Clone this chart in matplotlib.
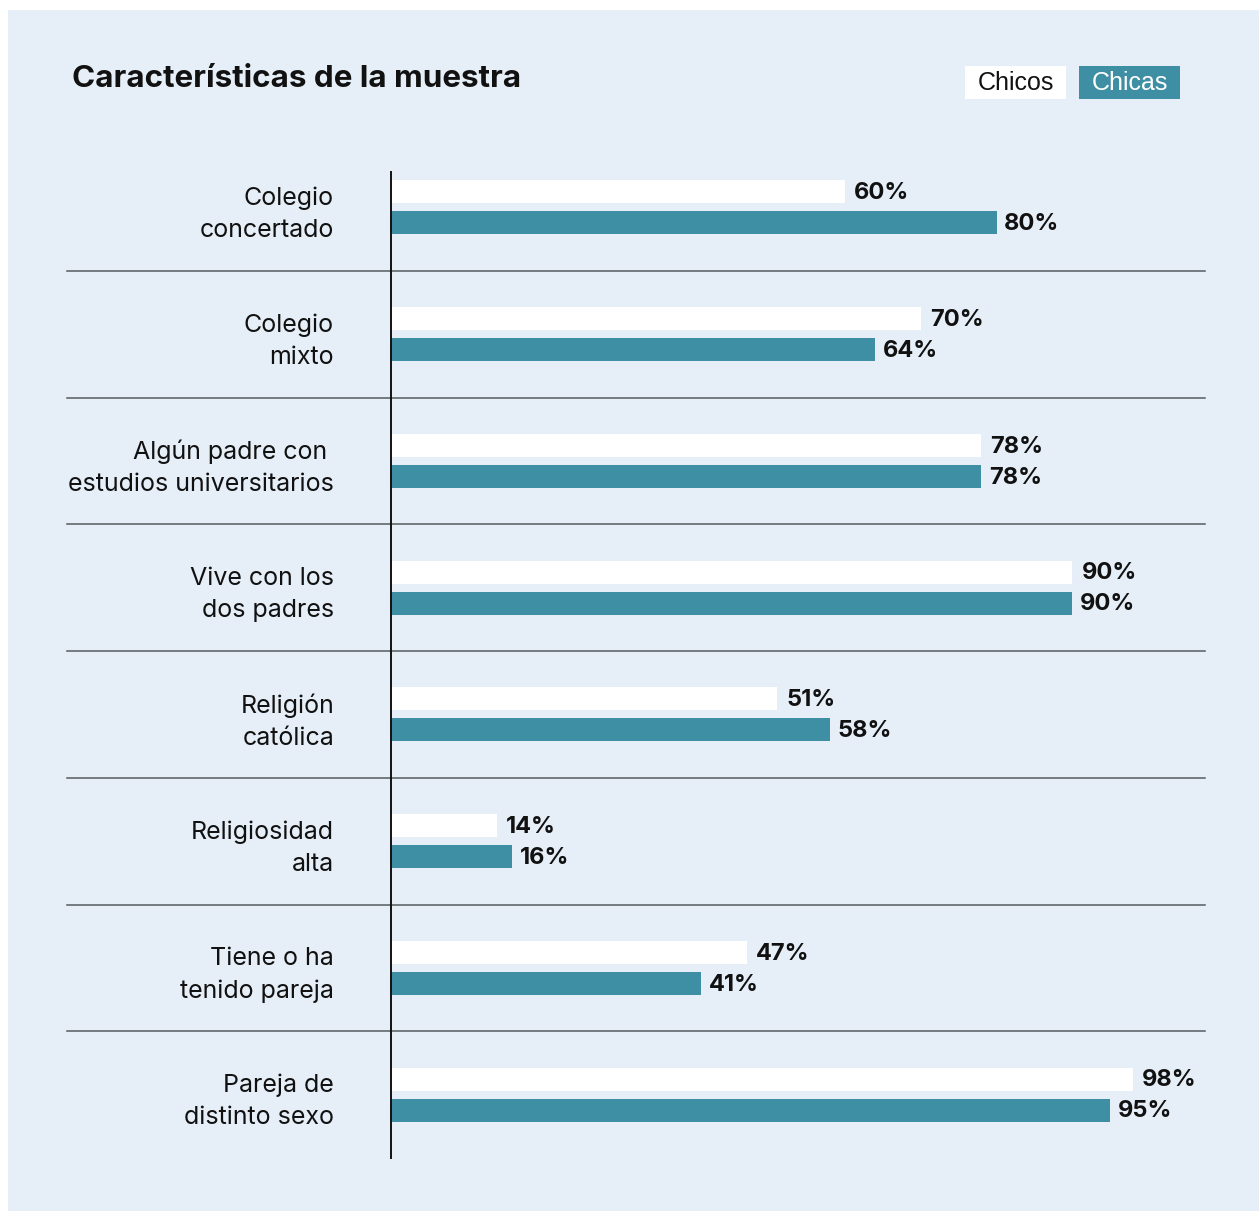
import matplotlib.pyplot as plt
from matplotlib.patches import Rectangle
from matplotlib.transforms import blended_transform_factory

categories = ['Colegio\nconcertado', 'Colegio\nmixto', 'Algún padre con \nestudios universitarios',
              'Vive con los\ndos padres', 'Religión\ncatólica', 'Religiosidad\nalta',
              'Tiene o ha\ntenido pareja', 'Pareja de\ndistinto sexo']
chicos = [60, 70, 78, 90, 51, 14, 47, 98]
chicas = [80, 64, 78, 90, 58, 16, 41, 95]

bg = '#e6eef7'
teal = '#3e8fa3'
W, H = 1259, 1211

plt.rcParams['font.family'] = ['Inter', 'DejaVu Sans']

fig = plt.figure(figsize=(W / 100, H / 100), dpi=100, facecolor='white')
fig.patches.append(Rectangle((8 / W, 0), 1, 1 - 10 / H, transform=fig.transFigure,
                             facecolor=bg, edgecolor='none', zorder=-10))

ax = fig.add_axes([391 / W, 1 - 1158 / H, (1205 - 391) / W, (1158 - 144) / H])
ax.set_facecolor('none')
ax.set_xlim(0, (1205 - 391) / 7.57)
ax.set_ylim(len(categories) - 0.5, -0.5)

y = list(range(len(categories)))
h = 0.182
off = 0.122
ax.barh([v - off for v in y], chicos, height=h, color='white', zorder=3)
ax.barh([v + off for v in y], chicas, height=h, color=teal, zorder=3)

for i in y:
    ax.text(chicos[i] + 1.2, i - off + 0.01, f'{chicos[i]}%', va='center', ha='left',
            fontsize=17, fontweight='bold', color='#111111')
    ax.text(chicas[i] + 1.0, i + off + 0.01, f'{chicas[i]}%', va='center', ha='left',
            fontsize=17, fontweight='bold', color='#111111')

# row separators, extend left under the labels
tr = blended_transform_factory(ax.transAxes, ax.transData)
left_frac = -(391 - 67) / (1205 - 391)
for i in y[:-1]:
    ax.plot([left_frac, 1], [i + 0.5, i + 0.5], transform=tr, color='#555b60',
            lw=1.1, clip_on=False, zorder=1)
ax.plot([0, 0], [-0.28, len(categories) - 0.5], color='#111111', lw=1.4, zorder=4,
        clip_on=False)

for s in ax.spines.values():
    s.set_visible(False)
ax.set_xticks([])
ax.set_yticks(y)
ax.set_yticklabels(categories, fontsize=18, color='#111111', linespacing=1.5)
ax.tick_params(axis='y', length=0, pad=41)

fig.text(72 / W, 1 - 79 / H, 'Características de la muestra', fontsize=22.6,
         fontweight='bold', va='center', ha='left', color='#111111')

# legend boxes
for x0, lab, fc, tc in [(965, 'Chicos', 'white', '#111111'), (1079, 'Chicas', teal, 'white')]:
    fig.patches.append(Rectangle((x0 / W, 1 - 99 / H), 101 / W, 33 / H,
                                 transform=fig.transFigure, facecolor=fc, edgecolor='none'))
    fig.text((x0 + 50.5) / W, 1 - 83 / H, lab, fontsize=18, ha='center', va='center',
             color=tc, family=['Liberation Sans', 'DejaVu Sans'])

fig.savefig('out.png', dpi=100, facecolor=fig.get_facecolor())
